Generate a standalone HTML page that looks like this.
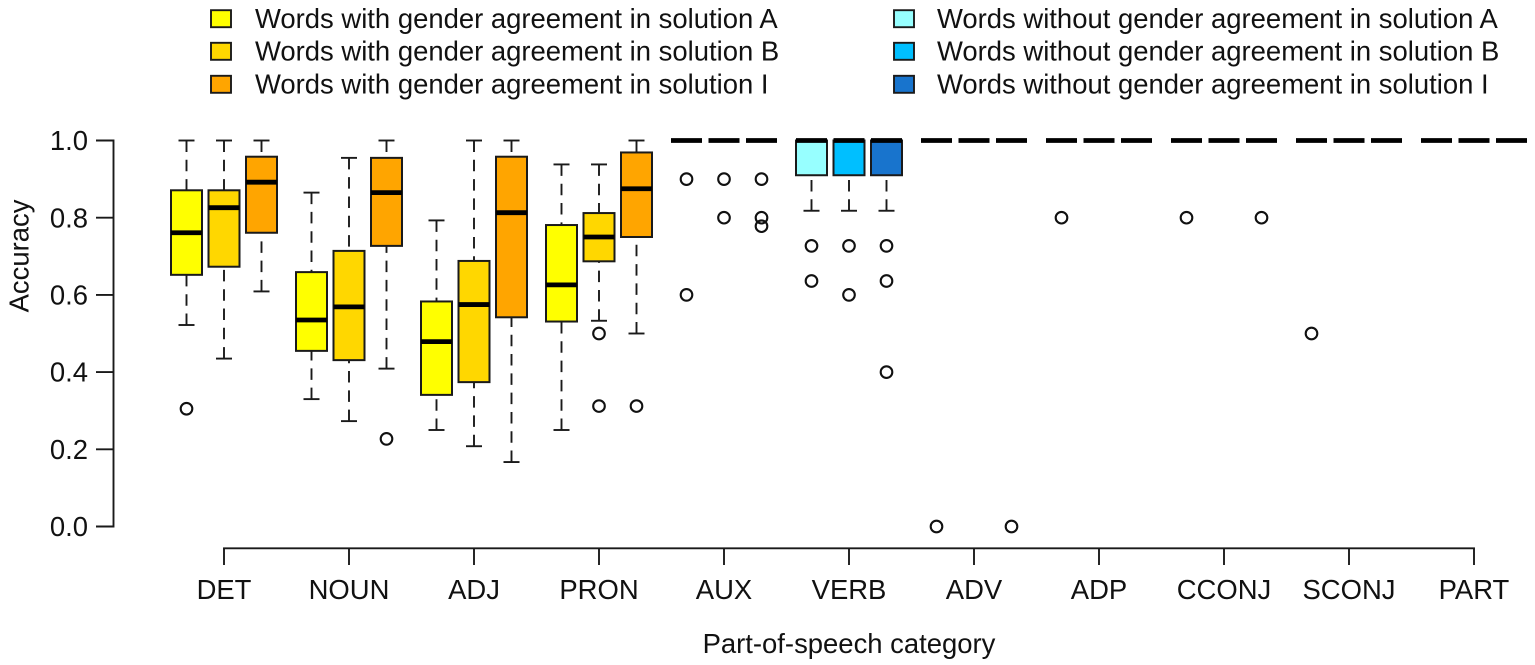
<!DOCTYPE html>
<html lang="en">
<head>
<meta charset="utf-8">
<title>Accuracy by part-of-speech category</title>
<style>
html,body{margin:0;padding:0;background:#fff;width:1535px;height:665px;overflow:hidden}
svg{display:block;filter:blur(0.3px)}
text{font-family:"Liberation Sans",Arial,sans-serif;fill:#111}
</style>
</head>
<body>
<svg id="chart" xmlns="http://www.w3.org/2000/svg" width="1535" height="665" viewBox="0 0 1535 665"></svg>
<script>
const categories = ["DET","NOUN","ADJ","PRON","AUX","VERB","ADV","ADP","CCONJ","SCONJ","PART"];
const seriesLabels = [
  "Words with gender agreement in solution A",
  "Words with gender agreement in solution B",
  "Words with gender agreement in solution I",
  "Words without gender agreement in solution A",
  "Words without gender agreement in solution B",
  "Words without gender agreement in solution I"
];
const yTicks = [0, 0.2, 0.4, 0.6, 0.8, 1];
// Per category, three boxes: solution A, B, I.
const whiskerHigh = [
  [1,1,1],[0.865,0.955,1],[0.793,1,1],[0.938,0.938,1],[1,1,1],[1,1,1],
  [1,1,1],[1,1,1],[1,1,1],[1,1,1],[1,1,1]
];
const upperQuartile = [
  [0.871,0.871,0.958],[0.659,0.714,0.955],[0.583,0.688,0.958],[0.781,0.812,0.969],[1,1,1],[1,1,1],
  [1,1,1],[1,1,1],[1,1,1],[1,1,1],[1,1,1]
];
const medians = [
  [0.761,0.826,0.892],[0.535,0.569,0.865],[0.479,0.575,0.813],[0.626,0.75,0.875],[1,1,1],[1,1,1],
  [1,1,1],[1,1,1],[1,1,1],[1,1,1],[1,1,1]
];
const lowerQuartile = [
  [0.652,0.673,0.761],[0.455,0.431,0.727],[0.341,0.374,0.542],[0.531,0.687,0.75],[1,1,1],[0.91,0.91,0.91],
  [1,1,1],[1,1,1],[1,1,1],[1,1,1],[1,1,1]
];
const whiskerLow = [
  [0.522,0.435,0.609],[0.33,0.273,0.409],[0.25,0.208,0.167],[0.25,0.533,0.5],[1,1,1],[0.818,0.818,0.818],
  [1,1,1],[1,1,1],[1,1,1],[1,1,1],[1,1,1]
];
const outliers = [
  [[0.305],[],[]],
  [[],[],[0.227]],
  [[],[],[]],
  [[],[0.5,0.312],[0.312]],
  [[0.9,0.6],[0.9,0.8],[0.9,0.8,0.778]],
  [[0.727,0.636],[0.727,0.6],[0.727,0.636,0.4]],
  [[0],[],[0]],
  [[0.8],[],[]],
  [[0.8],[],[0.8]],
  [[0.5],[],[]],
  [[],[],[]]
];
const agreementFills = ["#ffff00","#ffd700","#ffa500"];
const noAgreementFills = ["#97ffff","#00bfff","#1874cd"];
const noAgreementCategories = ["AUX","VERB","ADV","ADP","CCONJ","SCONJ","PART"];

const svg = document.getElementById('chart');
const NS = 'http://www.w3.org/2000/svg';
const INK = '#1a1a1a';
const FONT_SIZE = 27.45;

function yScale(v){ return 526.5 - 386 * v; }
function xScale(g, s){ return 224 + 125 * g + 37.5 * (s - 1); }

function make(tag, attrs, parent, txt){
  const el = document.createElementNS(NS, tag);
  for (const k in attrs) el.setAttribute(k, attrs[k]);
  if (txt !== undefined) el.textContent = txt;
  (parent || svg).appendChild(el);
  return el;
}
function seg(x1, y1, x2, y2, parent, extra){
  return make('line', Object.assign({x1:x1, y1:y1, x2:x2, y2:y2, stroke:INK, 'stroke-width':1.9}, extra || {}), parent);
}

/* Legend */
const legend = make('g', {});


seriesLabels.forEach(function(label, i){
  const col = i < 3 ? 0 : 1;
  const row = i % 3;
  const rowY = [18.7, 51.3, 84.3][row];
  const swatchX = col === 0 ? 211 : 894;
  const textX = col === 0 ? 255 : 937;
  const fill = (col === 0 ? agreementFills : noAgreementFills)[row];
  const entry = make('g', {}, legend);
  
  
  const swatch = make('rect', {x:swatchX, y:rowY - 8.5, width:20, height:17, fill:fill, stroke:INK, 'stroke-width':1.9}, entry);
  
  
  const t = make('text', {x:textX, y:rowY + 9.3, 'font-size':FONT_SIZE}, entry, label);
  
  
});

/* Y axis */
const yAxis = make('g', {});


seg(113.5, yScale(yTicks[0]), 113.5, yScale(yTicks[yTicks.length - 1]), yAxis, {'stroke-linecap':'square'});
yTicks.forEach(function(v){
  const tick = seg(96, yScale(v), 113.5, yScale(v), yAxis);
  
  
  const t = make('text', {x:88, y:yScale(v) + 9.6, 'font-size':FONT_SIZE, 'text-anchor':'end'}, yAxis, v.toFixed(1));
  
  
});
const yTitle = make('text', {x:0, y:0, 'font-size':FONT_SIZE, 'text-anchor':'middle', transform:'translate(28.5 256) rotate(-90)'}, svg, 'Accuracy');



/* X axis */
const xAxis = make('g', {});


seg(xScale(0,1), 548.3, xScale(categories.length - 1, 1), 548.3, xAxis, {'stroke-linecap':'square'});
categories.forEach(function(c, g){
  const x = xScale(g, 1);
  const tick = seg(x, 548.3, x, 565, xAxis);
  
  
  const t = make('text', {x:x, y:599, 'font-size':FONT_SIZE, 'text-anchor':'middle'}, xAxis, c);
  
  
});
const xTitle = make('text', {x:849, y:653, 'font-size':FONT_SIZE, 'text-anchor':'middle'}, svg, 'Part-of-speech category');



/* Boxes */
const BOX_HALF = 15.5;
const CAP_HALF = 8;
const DASH = {'stroke-dasharray':'11.5 7.8'};
const plot = make('g', {});


categories.forEach(function(c, g){
  for (let s = 0; s < 3; s++){
    const x = xScale(g, s);
    const fills = noAgreementCategories.indexOf(c) >= 0 ? noAgreementFills : agreementFills;
    const box = make('g', {}, plot);
    
    
    const hi = yScale(whiskerHigh[g][s]);
    const lo = yScale(whiskerLow[g][s]);
    const q3 = yScale(upperQuartile[g][s]);
    const q1 = yScale(lowerQuartile[g][s]);
    const md = yScale(medians[g][s]);
    if (hi < q3) {
      seg(x, hi, x, q3, box, DASH);
      seg(x - CAP_HALF, hi, x + CAP_HALF, hi, box);
    }
    if (lo > q1) {
      seg(x, lo, x, q1, box, DASH);
      seg(x - CAP_HALF, lo, x + CAP_HALF, lo, box);
    }
    if (q1 > q3) {
      make('rect', {x:x - BOX_HALF, y:q3, width:BOX_HALF * 2, height:q1 - q3, fill:fills[s], stroke:INK, 'stroke-width':2}, box);
    }
    make('line', {x1:x - BOX_HALF, y1:md, x2:x + BOX_HALF, y2:md, stroke:'#000', 'stroke-width':4.8}, box);
    outliers[g][s].forEach(function(v){
      const p = make('circle', {cx:x, cy:yScale(v), r:5.8, fill:'none', stroke:'#111', 'stroke-width':2.1}, box);
      
      
    });
  }
});
</script>
</body>
</html>
